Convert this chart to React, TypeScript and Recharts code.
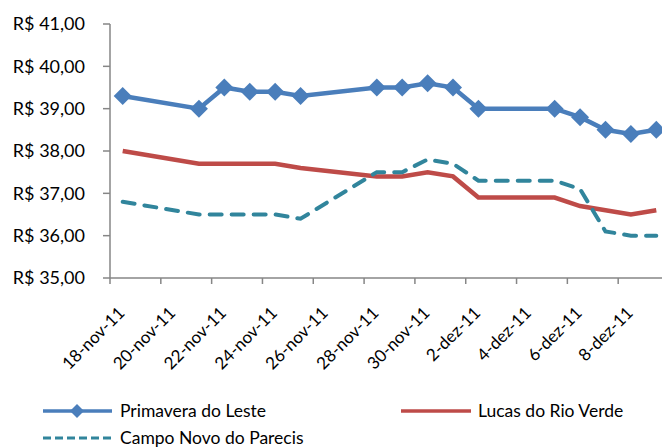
import React from "react";
import { LineChart, Line, XAxis, YAxis, Legend } from "recharts";

// Preço por praça, 18-nov-11 a 9-dez-11
const dates = [
  "2011-11-18", "2011-11-21", "2011-11-22", "2011-11-23", "2011-11-24", "2011-11-25",
  "2011-11-28", "2011-11-29", "2011-11-30", "2011-12-01", "2011-12-02", "2011-12-05",
  "2011-12-06", "2011-12-07", "2011-12-08", "2011-12-09",
];
const primavera = [39.3, 39.0, 39.5, 39.4, 39.4, 39.3, 39.5, 39.5, 39.6, 39.5, 39.0, 39.0, 38.8, 38.5, 38.4, 38.5];
const lucas = [38.0, 37.7, 37.7, 37.7, 37.7, 37.6, 37.4, 37.4, 37.5, 37.4, 36.9, 36.9, 36.7, 36.6, 36.5, 36.6];
const campo = [36.8, 36.5, 36.5, 36.5, 36.5, 36.4, 37.5, 37.5, 37.8, 37.7, 37.3, 37.3, 37.1, 36.1, 36.0, 36.0];

const tickDates = [
  "2011-11-18", "2011-11-20", "2011-11-22", "2011-11-24", "2011-11-26", "2011-11-28",
  "2011-11-30", "2011-12-02", "2011-12-04", "2011-12-06", "2011-12-08",
];
const tickLabels = [
  "18-nov-11", "20-nov-11", "22-nov-11", "24-nov-11", "26-nov-11", "28-nov-11",
  "30-nov-11", "2-dez-11", "4-dez-11", "6-dez-11", "8-dez-11",
];
const yTicks = [35, 36, 37, 38, 39, 40, 41];

const names = {
  primavera: "Primavera do Leste",
  lucas: "Lucas do Rio Verde",
  campo: "Campo Novo do Parecis",
};

const BLUE = "#4A7EBB";
const RED = "#BE4B48";
const TEAL = "#31859C";
const GRAY = "#868686";
const FONT = "Lato, 'Open Sans', sans-serif";

const DAY = 86400000;
const START = Date.UTC(2011, 10, 18);
function dayIndex(s: string) {
  const [y, m, d] = s.split("-").map(Number);
  return (Date.UTC(y, m - 1, d) - START) / DAY;
}

const data = dates.map((d, i) => ({
  day: dayIndex(d),
  primavera: primavera[i],
  lucas: lucas[i],
  campo: campo[i],
}));

const CHART_W = 680;
const CHART_H = 448;
const MARGIN = { top: 24, right: 11, left: 0, bottom: 58 };
const Y_W = 110;
const PLOT_W = CHART_W - MARGIN.left - MARGIN.right - Y_W;
const HALF_SLOT = PLOT_W / 22 / 2;

const fmtBRL = (v: number) => "R$ " + v.toFixed(2).replace(".", ",");

function Diamond(props: any) {
  const { cx, cy } = props;
  if (cx == null || cy == null) return null;
  const r = 9;
  return (
    <polygon
      points={`${cx},${cy - r} ${cx + r},${cy} ${cx},${cy + r} ${cx - r},${cy}`}
      fill={BLUE}
      stroke="none"
    />
  );
}

function DateTick(props: any) {
  const { x, y, index } = props;
  const tx = x + HALF_SLOT + 3;
  const ty = y + 28;
  return (
    <text
      x={tx}
      y={ty}
      textAnchor="end"
      fontSize={17}
      fontFamily={FONT}
      fill="#000"
      transform={`rotate(-45, ${tx}, ${ty})`}
    >
      {tickLabels[index]}
    </text>
  );
}

function LegendBox() {
  const text = { position: "absolute" as const, fontSize: 17.5, fontFamily: FONT, color: "#000", lineHeight: "20px", whiteSpace: "nowrap" as const };
  return (
    <div style={{ position: "relative", width: 662, height: 52 }}>
      <svg width={662} height={52} style={{ position: "absolute", left: 0, top: 0 }}>
        <line x1={43} y1={15} x2={112} y2={15} stroke={BLUE} strokeWidth={3.5} />
        <polygon points="77,8 84,15 77,22 70,15" fill={BLUE} />
        <line x1={401} y1={15} x2={471} y2={15} stroke={RED} strokeWidth={3.5} />
        <line x1={43} y1={42} x2={112} y2={42} stroke={TEAL} strokeWidth={3} strokeDasharray="8 4" />
      </svg>
      <span style={{ ...text, left: 120, top: 5 }}>{names.primavera}</span>
      <span style={{ ...text, left: 478, top: 5 }}>{names.lucas}</span>
      <span style={{ ...text, left: 120, top: 32 }}>{names.campo}</span>
    </div>
  );
}

export default function App() {
  return (
    <div style={{ position: "absolute", left: 0, top: 0, width: 662, height: 448, overflow: "hidden", background: "#fff" }}>
      <LineChart width={CHART_W} height={CHART_H} data={data} margin={MARGIN}>
        <XAxis
          dataKey="day"
          type="number"
          domain={[-0.5, 21.5]}
          allowDataOverflow
          ticks={tickDates.map((d) => dayIndex(d) - 0.5)}
          interval={0}
          tick={<DateTick />}
          tickSize={6}
          height={60}
          axisLine={{ stroke: GRAY, strokeWidth: 1.5 }}
          tickLine={{ stroke: GRAY, strokeWidth: 1.5 }}
        />
        <YAxis
          type="number"
          domain={[35, 41]}
          ticks={yTicks}
          interval={0}
          width={Y_W}
          tickSize={7}
          tickMargin={18}
          tickFormatter={fmtBRL}
          tick={{ fill: "#000", fontSize: 18, fontFamily: FONT }}
          axisLine={{ stroke: GRAY, strokeWidth: 1.5 }}
          tickLine={{ stroke: GRAY, strokeWidth: 1.5 }}
        />
        <Legend
          content={() => <LegendBox />}
          wrapperStyle={{ position: "absolute", left: 0, top: 396, width: 662, height: 52 }}
        />
        <Line
          type="linear"
          dataKey="lucas"
          name={names.lucas}
          stroke={RED}
          strokeWidth={4.5}
          dot={false}
          isAnimationActive={false}
        />
        <Line
          type="linear"
          dataKey="campo"
          name={names.campo}
          stroke={TEAL}
          strokeWidth={4}
          strokeDasharray="12 10"
          strokeLinecap="round"
          dot={false}
          isAnimationActive={false}
        />
        <Line
          type="linear"
          dataKey="primavera"
          name={names.primavera}
          stroke={BLUE}
          strokeWidth={4.5}
          dot={<Diamond />}
          activeDot={false}
          isAnimationActive={false}
        />
      </LineChart>
    </div>
  );
}
